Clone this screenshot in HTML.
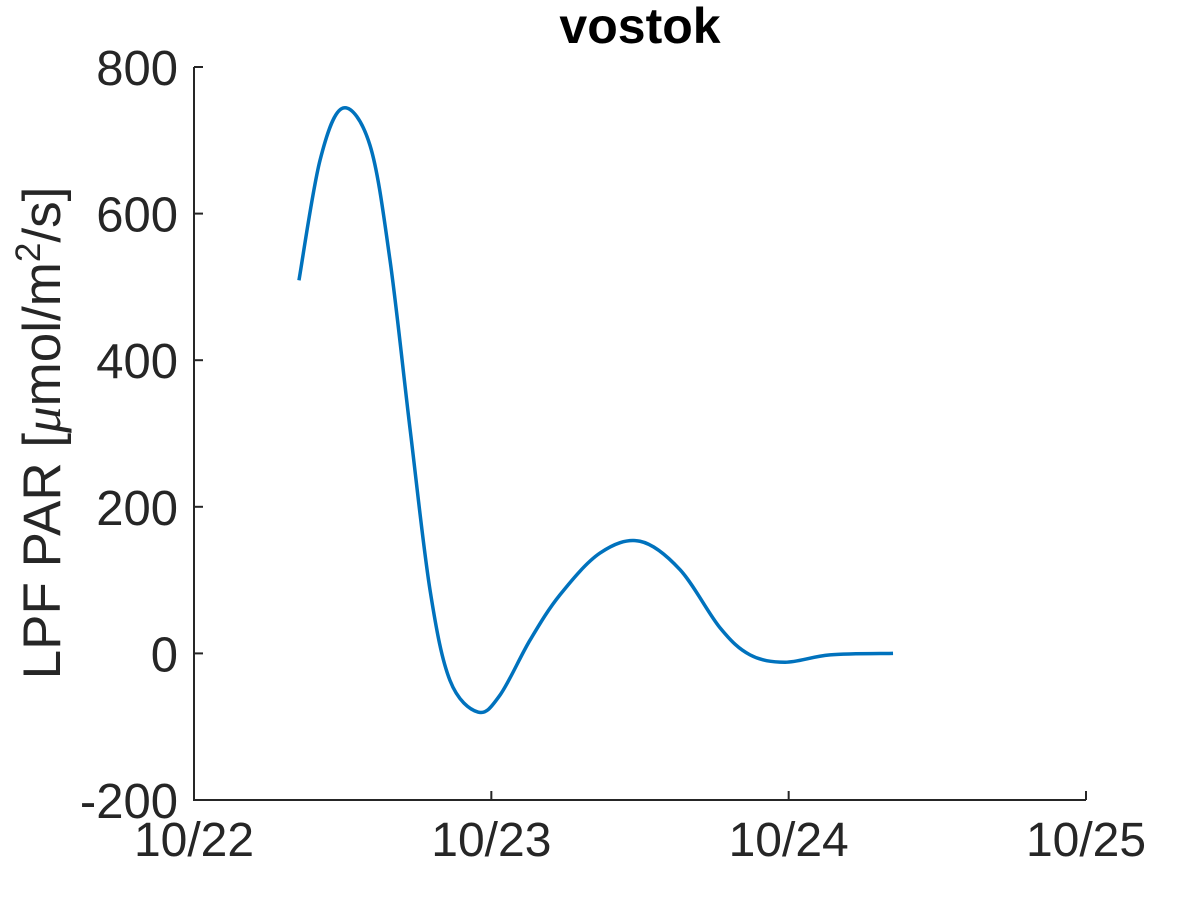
<!DOCTYPE html>
<html><head><meta charset="utf-8"><style>
body{margin:0;background:#fff}
svg{display:block;font-family:"Liberation Sans",sans-serif}
</style></head><body>
<svg id="chart" width="1200" height="900" viewBox="0 0 1200 900"></svg>
<script>
const xTickLabels=["10/22","10/23","10/24","10/25"];
const yTickValues=[-200,0,200,400,600,800];
const seriesDays=[0.353,0.424,0.501,0.592,0.659,0.727,0.794,0.861,0.955,1.029,1.130,1.231,1.366,1.500,1.635,1.769,1.870,1.988,2.139,2.351];
const seriesValues=[509,673,744,693,537,305,86,-37,-80,-57,18,80,137,153,114,35,-2,-12,-2,0];
const NS="http://www.w3.org/2000/svg";
const svg=document.getElementById('chart');
const L=194,R=1086,T=67,B=800;
const xs=d=>L+d*(R-L)/3;
const ys=v=>B-(v+200)*(B-T)/1000;
function mk(t,a){const e=document.createElementNS(NS,t);for(const k in a)e.setAttribute(k,a[k]);svg.appendChild(e);return e;}
const ax=mk('path',{d:`M${L},${T}V${B}H${R}`,fill:'none',stroke:'#262626','stroke-width':2});


xTickLabels.forEach((s,i)=>{
 const x=xs(i);
 const tk=mk('line',{x1:x,x2:x,y1:B,y2:B-9,stroke:'#262626','stroke-width':2});
 
 
 const t=mk('text',{x:x,y:856,'font-size':48,'text-anchor':'middle',fill:'#262626'});
 t.textContent=s;
 
 
});
yTickValues.forEach(v=>{
 const y=ys(v);
 const tk=mk('line',{x1:L,x2:L+9,y1:y,y2:y,stroke:'#262626','stroke-width':2});
 
 
 const t=mk('text',{x:178,y:y+18,'font-size':49,'text-anchor':'end',fill:'#262626'});
 t.textContent=String(v);
 
 
});
const P=seriesDays.map((d,i)=>[xs(d),ys(seriesValues[i])]);
let d=`M${P[0][0]},${P[0][1]}`;
for(let i=0;i<P.length-1;i++){
 const p0=P[Math.max(0,i-1)],p1=P[i],p2=P[i+1],p3=P[Math.min(P.length-1,i+2)];
 const c1=[p1[0]+(p2[0]-p0[0])/6,p1[1]+(p2[1]-p0[1])/6];
 const c2=[p2[0]-(p3[0]-p1[0])/6,p2[1]-(p3[1]-p1[1])/6];
 d+=`C${c1[0]},${c1[1]} ${c2[0]},${c2[1]} ${p2[0]},${p2[1]}`;
}
const line=mk('path',{d:d,fill:'none',stroke:'#0072BD','stroke-width':3.5});


const title=mk('text',{x:640,y:43,'font-size':50,'font-weight':'bold','text-anchor':'middle',fill:'#000'});
title.textContent='vostok';


const yl=mk('text',{x:0,y:0,'font-size':53,'text-anchor':'middle',fill:'#262626',transform:'translate(60,433) rotate(-90)'});
yl.innerHTML='LPF PAR [<tspan font-family="Liberation Serif" font-style="italic">μ</tspan>mol/m<tspan font-size="35" dy="-20">2</tspan><tspan dy="20">/s]</tspan>';


</script>
</body></html>
